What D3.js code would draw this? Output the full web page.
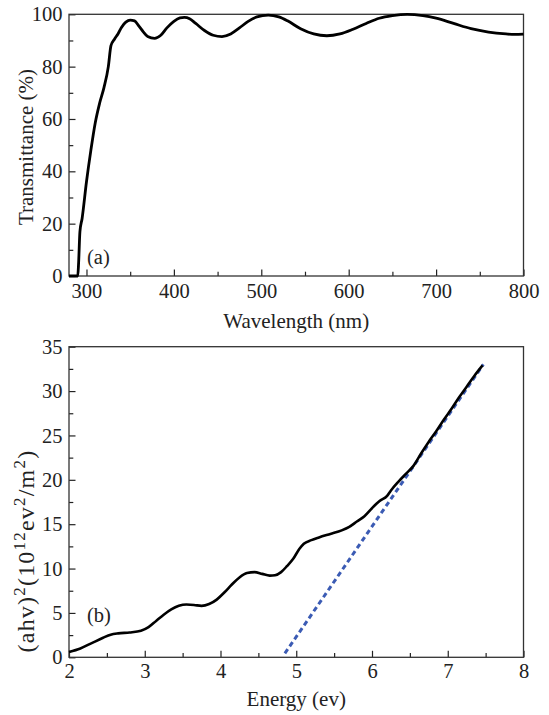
<!DOCTYPE html>
<html><head><meta charset="utf-8">
<script src="https://cdn.jsdelivr.net/npm/d3@7"></script>
<style>body{margin:0;background:#fff} svg text{font-family:"Liberation Serif","Tinos","DejaVu Serif","Noto Serif","Times New Roman",serif;fill:#222}</style>
</head><body>
<svg id="c" width="549" height="715"></svg>
<script>
// Panel (a)
const wavelength = [280,290,291,292.5,295,300,305,310,315,320,325,328,332,336,340,345,350,355,360,365,370,378,385,392,400,407,412,418,425,435,445,455,465,475,485,495,508,520,530,545,560,575,590,605,620,635,650,667,685,700,720,740,760,780,790,800];
const transmittance = [0,0,5,17,22,36,48,58.5,66,72,80,88,90.5,92.5,95,97,97.8,97.5,95.5,93.3,91.5,90.8,92,94.8,97.3,98.6,98.8,98.3,96.5,93.8,92,91.5,92.5,94.8,97.3,99,99.7,99,97.5,94.5,92.5,91.8,92.5,94.3,96.5,98.5,99.5,100,99.5,98.5,96.5,94.5,93.2,92.5,92.3,92.4];
const topXTicks = [300,400,500,600,700,800];
const topXMinor = [350,450,550,650,750];
const topYTicks = [0,20,40,60,80,100];
const topYMinor = [10,30,50,70,90];

// Panel (b)
const energy = [2.0,2.15,2.3,2.45,2.55,2.65,2.8,2.95,3.05,3.15,3.25,3.35,3.45,3.55,3.65,3.75,3.85,3.95,4.05,4.15,4.25,4.35,4.45,4.55,4.65,4.72,4.8,4.88,4.96,5.04,5.1,5.2,5.3,5.45,5.6,5.7,5.8,5.9,6.0,6.1,6.2,6.25,6.35,6.45,6.55,6.65,6.75,6.85,6.95,7.05,7.15,7.25,7.35,7.46];
const ahv2 = [0.6,1.0,1.6,2.2,2.55,2.7,2.8,3.0,3.4,4.1,4.8,5.4,5.8,5.95,5.9,5.8,6.0,6.5,7.3,8.2,9.0,9.5,9.6,9.4,9.2,9.25,9.6,10.3,11.1,12.2,12.8,13.2,13.5,13.9,14.3,14.7,15.3,15.9,16.8,17.6,18.2,18.8,19.8,20.7,21.6,23.0,24.3,25.5,26.8,28.0,29.3,30.5,31.7,32.9];
const fitEnergy = [4.85, 7.47];
const fitValue = [0.45, 33.0];
const botXTicks = [2,3,4,5,6,7,8];
const botXMinor = [2.5,3.5,4.5,5.5,6.5,7.5];
const botYTicks = [0,5,10,15,20,25,30,35];
const botYMinor = [2.5,7.5,12.5,17.5,22.5,27.5,32.5];

const svg = d3.select("#c");
const L = 69, R = 523.5;
const FS = 20.5;

function panel(cfg){
  const x = d3.scaleLinear().domain(cfg.xd).range([L, R]);
  const y = d3.scaleLinear().domain(cfg.yd).range([cfg.bottom, cfg.top]);
  const g = svg.append("g");
  g.append("g").attr("transform",`translate(0,${cfg.bottom})`)
    .call(d3.axisBottom(x).tickValues(cfg.xMinor).tickSize(-4.3).tickFormat(""))
    .call(s=>s.select(".domain").remove());
  g.append("g").attr("transform",`translate(${L},0)`)
    .call(d3.axisLeft(y).tickValues(cfg.yMinor).tickSize(-4.3).tickFormat(""))
    .call(s=>s.select(".domain").remove());
  g.append("g").attr("transform",`translate(0,${cfg.bottom})`)
    .call(d3.axisBottom(x).tickValues(cfg.xTicks).tickSize(-6.5).tickPadding(cfg.xPad).tickFormat(d3.format("d")))
    .call(s=>s.select(".domain").remove());
  g.append("g").attr("transform",`translate(${L},0)`)
    .call(d3.axisLeft(y).tickValues(cfg.yTicks).tickSize(-6.5).tickPadding(6.5).tickFormat(d3.format("d")))
    .call(s=>s.select(".domain").remove());
  g.selectAll("g").attr("font-family",null);
  g.selectAll(".tick line").attr("stroke","#222").attr("stroke-width",1.2);
  g.selectAll(".tick text").attr("font-size",FS).attr("fill","#222");
  g.append("rect").attr("x",L).attr("y",cfg.top).attr("width",R-L).attr("height",cfg.bottom-cfg.top)
    .attr("fill","none").attr("stroke","#333").attr("stroke-width",1.3);
  return {x,y,g};
}

// ---- Panel a
const A = panel({xd:[280,800], yd:[0,100], top:14.3, bottom:276, xTicks:topXTicks, xMinor:topXMinor, yTicks:topYTicks, yMinor:topYMinor, xPad:7.5});
A.g.append("path")
  .datum(wavelength.map((w,i)=>[w,transmittance[i]]))
  .attr("fill","none").attr("stroke","#000").attr("stroke-width",2.8).attr("stroke-linejoin","round")
  .attr("d", d3.line().x(d=>A.x(d[0])).y(d=>A.y(d[1])).curve(d3.curveMonotoneX));
A.g.append("text").attr("x",87).attr("y",264).attr("font-size",FS).text("(a)");
A.g.append("text").attr("x",(L+R)/2).attr("y",328).attr("text-anchor","middle").attr("font-size",21).text("Wavelength (nm)");
A.g.append("text").attr("transform","translate(33,147) rotate(-90)").attr("text-anchor","middle").attr("font-size",21).text("Transmittance (%)");

// ---- Panel b
const B = panel({xd:[2,8], yd:[0,35], top:346.7, bottom:657.3, xTicks:botXTicks, xMinor:botXMinor, yTicks:botYTicks, yMinor:botYMinor, xPad:6.5});
B.g.append("path")
  .datum(fitEnergy.map((e,i)=>[e,fitValue[i]]))
  .attr("fill","none").attr("stroke","#3b5bb4").attr("stroke-width",3).attr("stroke-dasharray","5,3.5")
  .attr("d", d3.line().x(d=>B.x(d[0])).y(d=>B.y(d[1])));
B.g.append("path")
  .datum(energy.map((e,i)=>[e,ahv2[i]]))
  .attr("fill","none").attr("stroke","#000").attr("stroke-width",2.6).attr("stroke-linejoin","round")
  .attr("d", d3.line().x(d=>B.x(d[0])).y(d=>B.y(d[1])).curve(d3.curveMonotoneX));
B.g.append("text").attr("x",87).attr("y",622).attr("font-size",FS).text("(b)");
B.g.append("text").attr("x",(L+R)/2).attr("y",706).attr("text-anchor","middle").attr("font-size",21).text("Energy (ev)");
const yl = B.g.append("text").attr("transform","translate(34,551) rotate(-90)").attr("text-anchor","middle").attr("font-size",24)
  .attr("letter-spacing",1.2);
const parts = [["(ahv)",0],["2",1],["(10",0],["12",1],["ev",0],["2",1],["/m",0],["2",1],[")",0]];
parts.forEach(([t,sup],i)=>{
  const prevSup = i>0 ? parts[i-1][1] : 0;
  const ts = yl.append("tspan").text(t).attr("dy", sup ? -9 : (prevSup ? 9 : 0));
  if(sup) ts.attr("font-size",17);
});
</script>
</body></html>
